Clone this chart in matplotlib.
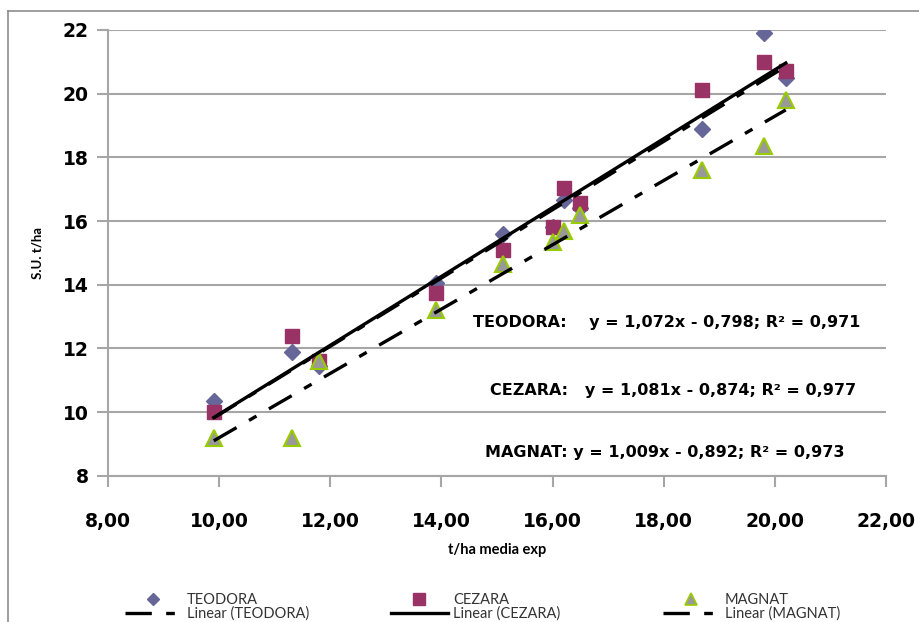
import numpy as np
import matplotlib
matplotlib.use("Agg")
import matplotlib.pyplot as plt
from matplotlib.lines import Line2D

plt.rcParams['font.family'] = ['Lato', 'DejaVu Sans']

# t/ha media exp
x_vals = [9.9, 11.3, 11.8, 13.9, 15.1, 16.0, 16.2, 16.5, 18.7, 19.8, 20.2]
# S.U. t/ha per variety
teodora = [10.35, 11.9, 11.45, 14.05, 15.6, 15.8, 16.65, 16.4, 18.9, 21.9, 20.5]
cezara = [10.0, 12.4, 11.6, 13.75, 15.1, 15.8, 17.05, 16.57, 20.1, 21.0, 20.7]
magnat = [9.2, 9.2, 11.6, 13.2, 14.65, 15.35, 15.7, 16.2, 17.6, 18.35, 19.8]

names = ["TEODORA", "CEZARA", "MAGNAT"]
slopes = [1.072, 1.081, 1.009]
intercepts = [-0.798, -0.874, -0.892]
r2 = [0.971, 0.977, 0.973]

x_ticks = [8, 10, 12, 14, 16, 18, 20, 22]
y_ticks = [8, 10, 12, 14, 16, 18, 20, 22]

fig = plt.figure(figsize=(9.19, 6.22), dpi=100)
ax = fig.add_axes([0.1178, 0.2352, 0.846, 0.7166])

grey = "#a6a6a6"
dash_dot = (7.9, 4.3, 2.6, 4.3)
ax.plot(x_vals, teodora, ls="none", marker="D", ms=8, mfc="#666699", mec="#666699", zorder=3)
ax.plot(x_vals, cezara, ls="none", marker="s", ms=10.5, mfc="#993366", mec="#993366", zorder=4)
ax.plot(x_vals, magnat, ls="none", marker="^", ms=11, mfc="#999999", mec="#99cc00", mew=1.5, zorder=5)

# trend lines from the printed equations
xs = np.array([min(x_vals), max(x_vals)])
styles = [dict(dashes=dash_dot), dict(ls="-"), dict(dashes=dash_dot)]
for i in range(3):
    ax.plot(xs, slopes[i] * xs + intercepts[i], color="black", lw=2.4, zorder=6, **styles[i])

ax.set_xlim(8, 22)
ax.set_ylim(8, 22)
ax.set_xticks(x_ticks)
ax.set_yticks(y_ticks)
ax.set_xticklabels([("%.2f" % t).replace(".", ",") for t in x_ticks])
ax.tick_params(axis="both", direction="out", length=8, color=grey, width=1.5, pad=6)
ax.tick_params(axis="x", pad=18)
for lbl in ax.get_xticklabels() + ax.get_yticklabels():
    lbl.set_fontweight("bold")
    lbl.set_fontsize(13.5)
    lbl.set_family("DejaVu Sans")
ax.yaxis.grid(True, color=grey, lw=1.5)
ax.set_axisbelow(True)
for side in ["top", "right"]:
    ax.spines[side].set_visible(False)
for side in ["left", "bottom"]:
    ax.spines[side].set_color(grey)
    ax.spines[side].set_linewidth(1.5)

ax.set_xlabel("t/ha media exp", fontsize=10.5, fontweight="bold", labelpad=9)
ax.set_ylabel("S.U. t/ha", fontsize=9.5, fontweight="bold", labelpad=14)

# equations
eq_pos = [(473, 323), (490, 390), (485, 452)]
gaps = ["    ", "   ", " "]
for i in range(3):
    txt = "%s:%sy = %s; R² = %s" % (
        names[i], gaps[i],
        ("%.3fx - %.3f" % (slopes[i], -intercepts[i])).replace(".", ","),
        ("%.3f" % r2[i]).replace(".", ","))
    fig.text(eq_pos[i][0] / 919, 1 - eq_pos[i][1] / 622, txt, fontsize=11.5,
             fontweight="bold", family="DejaVu Sans", ha="left", va="center")

# legend, one block per variety
marker_kw = [dict(marker="D", ms=6.5, mfc="#666699", mec="#666699"),
             dict(marker="s", ms=8, mfc="#993366", mec="#993366"),
             dict(marker="^", ms=8.5, mfc="#999999", mec="#99cc00", mew=1.2)]
leg_x = [125, 391, 663]
for i in range(3):
    handles = [Line2D([], [], ls="none", **marker_kw[i]),
               Line2D([], [], color="black", lw=2.4, **styles[i])]
    labels = [names[i], "Linear (%s)" % names[i]]
    fig.legend(handles, labels, loc="center left",
               bbox_to_anchor=(leg_x[i] / 919, 1 - 607 / 622),
               frameon=False, fontsize=10.5, labelspacing=0.0, handlelength=3.9,
               handletextpad=0.35, borderpad=0, borderaxespad=0,
               labelcolor="#333333")

# chart border (left and top visible)
fig.add_artist(Line2D([8 / 919, 8 / 919], [0, 1 - 11 / 622], color="#8c8c8c", lw=1.2))
fig.add_artist(Line2D([8 / 919, 1], [1 - 11 / 622, 1 - 11 / 622], color="#8c8c8c", lw=1.2))

fig.savefig("out.png", dpi=100)
